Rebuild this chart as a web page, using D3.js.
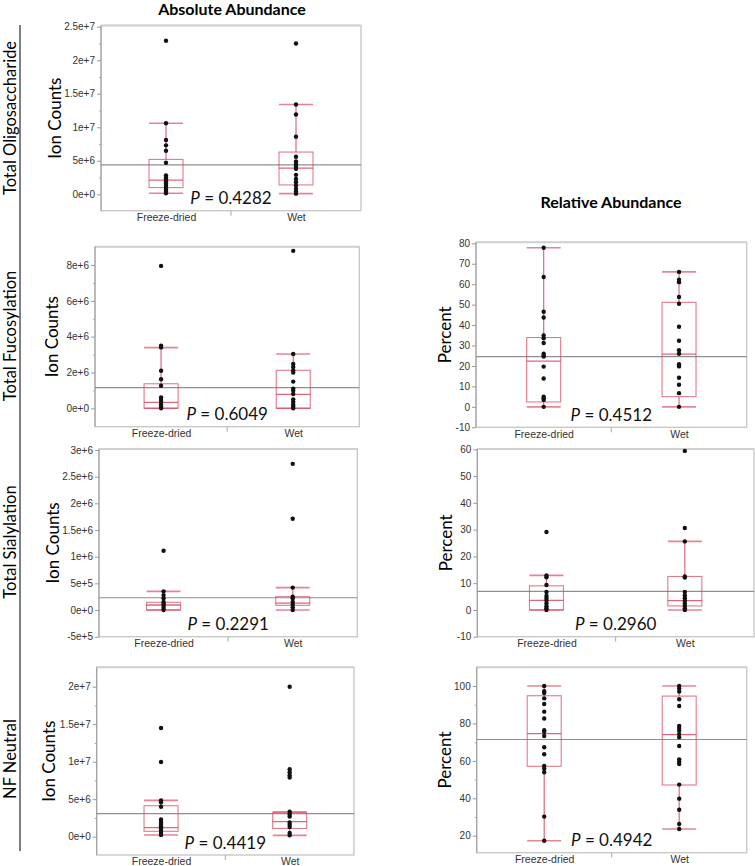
<!DOCTYPE html>
<html><head><meta charset="utf-8">
<script src="https://cdn.jsdelivr.net/npm/d3@7"></script>
<style>body{margin:0;background:#fff}svg{display:block}</style>
</head><body>
<svg id="chart" width="755" height="866"></svg>
<script>
// ---------------- DATA ----------------
const groups = ["Freeze-dried", "Wet"];
const rowLabels = ["Total Oligosaccharide", "Total Fucosylation", "Total Sialylation", "NF Neutral"];
const colTitles = ["Absolute Abundance", "Relative Abundance"];
const absAxisTitle = "Ion Counts";
const relAxisTitle = "Percent";

// box stats: [lower whisker, Q1, median, Q3, upper whisker]
// Absolute – Total Oligosaccharide
const oligoAbsFD = [22.9e6, 10.6e6, 8.1e6, 7.3e6, 6.5e6, 4.7e6, 2.8e6, 2.5e6, 2.2e6, 1.9e6, 1.6e6, 1.3e6, 1.0e6, 0.7e6, 0.4e6, 0.15e6];
const oligoAbsWet = [22.5e6, 13.4e6, 11.9e6, 8.6e6, 5.6e6, 4.9e6, 4.5e6, 4.1e6, 3.8e6, 2.9e6, 2.3e6, 1.8e6, 1.3e6, 0.8e6, 0.4e6, 0.1e6];
const oligoAbsBoxFD = [0.15e6, 1.0e6, 2.1e6, 5.2e6, 10.6e6];
const oligoAbsBoxWet = [0.1e6, 1.4e6, 3.9e6, 6.3e6, 13.4e6];
const oligoAbsMean = 4.4e6;
const oligoAbsP = "0.4282";
const oligoAbsTicks = [0, 5e6, 1e7, 1.5e7, 2e7, 2.5e7];
const oligoAbsTickLabels = ["0e+0", "5e+6", "1e+7", "1.5e+7", "2e+7", "2.5e+7"];
const oligoAbsMinor = [2.5e6, 7.5e6, 1.25e7, 1.75e7, 2.25e7];

// Absolute – Total Fucosylation
const fucAbsFD = [7.95e6, 3.5e6, 3.4e6, 2.1e6, 1.62e6, 1.26e6, 0.6e6, 0.46e6, 0.33e6, 0.2e6, 0.08e6, 0.0];
const fucAbsWet = [8.79e6, 3.03e6, 2.47e6, 2.3e6, 2.12e6, 2.0e6, 1.49e6, 1.1e6, 1.0e6, 0.8e6, 0.5e6, 0.35e6, 0.2e6, 0.1e6, 0.0];
const fucAbsBoxFD = [0, 0, 0.33e6, 1.37e6, 3.39e6];
const fucAbsBoxWet = [0, 0, 0.78e6, 2.12e6, 3.03e6];
const fucAbsMean = 1.15e6;
const fucAbsP = "0.6049";
const fucAbsTicks = [0, 2e6, 4e6, 6e6, 8e6];
const fucAbsTickLabels = ["0e+0", "2e+6", "4e+6", "6e+6", "8e+6"];
const fucAbsMinor = [1e6, 3e6, 5e6, 7e6];

// Absolute – Total Sialylation
const siaAbsFD = [1.11e6, 0.35e6, 0.28e6, 0.22e6, 0.15e6, 0.12e6, 0.08e6, 0.04e6, 0.0];
const siaAbsWet = [2.74e6, 1.71e6, 0.42e6, 0.25e6, 0.22e6, 0.15e6, 0.1e6, 0.05e6, 0.0];
const siaAbsBoxFD = [0, 0, 0.094e6, 0.145e6, 0.35e6];
const siaAbsBoxWet = [0, 0.088e6, 0.13e6, 0.25e6, 0.42e6];
const siaAbsMean = 0.23e6;
const siaAbsP = "0.2291";
const siaAbsTicks = [-5e5, 0, 5e5, 1e6, 1.5e6, 2e6, 2.5e6, 3e6];
const siaAbsTickLabels = ["-5e+5", "0e+0", "5e+5", "1e+6", "1.5e+6", "2e+6", "2.5e+6", "3e+6"];
const siaAbsMinor = [];

// Absolute – NF Neutral
const nfAbsFD = [14.5e6, 9.96e6, 4.85e6, 4.58e6, 4.0e6, 2.3e6, 2.0e6, 1.7e6, 1.4e6, 1.1e6, 0.8e6, 0.5e6, 0.22e6];
const nfAbsWet = [20.0e6, 8.99e6, 8.6e6, 8.2e6, 7.9e6, 3.33e6, 3.0e6, 2.7e6, 1.9e6, 1.6e6, 1.3e6, 0.5e6, 0.2e6];
const nfAbsBoxFD = [0.22e6, 0.72e6, 1.2e6, 4.13e6, 4.85e6];
const nfAbsBoxWet = [0.18e6, 1.1e6, 2.0e6, 3.2e6, 3.33e6];
const nfAbsMean = 3.07e6;
const nfAbsP = "0.4419";
const nfAbsTicks = [0, 5e6, 1e7, 1.5e7, 2e7];
const nfAbsTickLabels = ["0e+0", "5e+6", "1e+7", "1.5e+7", "2e+7"];
const nfAbsMinor = [2.5e6, 7.5e6, 1.25e7, 1.75e7];

// Relative – Total Fucosylation
const fucRelFD = [77.8, 63.5, 46.5, 43.7, 34.9, 33.5, 31.2, 26.0, 25.0, 24.6, 19.7, 13.9, 5.0, 4.2, 3.4, 0.0];
const fucRelWet = [66.0, 62.2, 61.0, 53.7, 50.4, 39.2, 32.3, 27.7, 26.0, 20.9, 19.8, 14.2, 10.8, 6.7, 0.0];
const fucRelBoxFD = [0, 2.4, 22.4, 33.9, 77.8];
const fucRelBoxWet = [0, 5.0, 25.8, 51.1, 66.0];
const fucRelMean = 24.6;
const fucRelP = "0.4512";
const fucRelTicks = [-10, 0, 10, 20, 30, 40, 50, 60, 70, 80];
const fucRelTickLabels = ["-10", "0", "10", "20", "30", "40", "50", "60", "70", "80"];
const fucRelMinor = [];

// Relative – Total Sialylation
const siaRelFD = [29.1, 12.9, 12.2, 9.3, 6.7, 5.2, 4.3, 3.4, 2.4, 1.4, 0.6, 0.0];
const siaRelWet = [59.4, 30.6, 25.6, 12.5, 12.1, 6.7, 5.4, 4.4, 3.4, 2.4, 1.5, 0.6, 0.0];
const siaRelBoxFD = [0, 0, 3.6, 9.0, 12.9];
const siaRelBoxWet = [0, 1.5, 3.5, 12.5, 25.6];
const siaRelMean = 6.9;
const siaRelP = "0.2960";
const siaRelTicks = [-10, 0, 10, 20, 30, 40, 50, 60];
const siaRelTickLabels = ["-10", "0", "10", "20", "30", "40", "50", "60"];
const siaRelMinor = [];

// Relative – NF Neutral
const nfRelFD = [100, 97.2, 96.2, 93.4, 90.4, 86.3, 82.6, 76.4, 75.5, 73.3, 67.3, 63.5, 57.3, 55.8, 53.9, 30.2, 17.3];
const nfRelWet = [100, 98.6, 97.0, 92.9, 89.3, 78.7, 77.5, 76.2, 74.3, 72.6, 67.9, 60.8, 59.5, 58.3, 47.3, 39.8, 33.9, 26.3, 23.6];
const nfRelBoxFD = [17.3, 57.1, 74.6, 94.8, 100];
const nfRelBoxWet = [23.6, 47.1, 74.0, 94.6, 100];
const nfRelMean = 71.4;
const nfRelP = "0.4942";
const nfRelTicks = [20, 40, 60, 80, 100];
const nfRelTickLabels = ["20", "40", "60", "80", "100"];
const nfRelMinor = [30, 50, 70, 90];

// ---------------- LAYOUT ----------------
const panels = [
  {frame: [101, 25.5, 361, 210.7], dom: [0, 2.5e7], rng: [194.3, 26.7], title: absAxisTitle, tx: 61,
   pts: [oligoAbsFD, oligoAbsWet], box: [oligoAbsBoxFD, oligoAbsBoxWet], mean: oligoAbsMean, p: oligoAbsP,
   ticks: oligoAbsTicks, labels: oligoAbsTickLabels, minor: oligoAbsMinor},
  {frame: [95, 246.7, 359.3, 426.7], dom: [0, 8e6], rng: [408.3, 265], title: absAxisTitle, tx: 58,
   pts: [fucAbsFD, fucAbsWet], box: [fucAbsBoxFD, fucAbsBoxWet], mean: fucAbsMean, p: fucAbsP,
   ticks: fucAbsTicks, labels: fucAbsTickLabels, minor: fucAbsMinor},
  {frame: [99, 449, 357.3, 636.7], dom: [-5e5, 3e6], rng: [636.7, 450], title: absAxisTitle, tx: 59,
   pts: [siaAbsFD, siaAbsWet], box: [siaAbsBoxFD, siaAbsBoxWet], mean: siaAbsMean, p: siaAbsP,
   ticks: siaAbsTicks, labels: siaAbsTickLabels, minor: siaAbsMinor},
  {frame: [96.7, 667.3, 354, 855], dom: [0, 2e7], rng: [836.7, 686.7], title: absAxisTitle, tx: 55,
   pts: [nfAbsFD, nfAbsWet], box: [nfAbsBoxFD, nfAbsBoxWet], mean: nfAbsMean, p: nfAbsP,
   ticks: nfAbsTicks, labels: nfAbsTickLabels, minor: nfAbsMinor},
  {frame: [476, 242.3, 746.7, 427.3], dom: [-10, 80], rng: [427.3, 243.3], title: relAxisTitle, tx: 451,
   pts: [fucRelFD, fucRelWet], box: [fucRelBoxFD, fucRelBoxWet], mean: fucRelMean, p: fucRelP,
   ticks: fucRelTicks, labels: fucRelTickLabels, minor: fucRelMinor},
  {frame: [477.3, 449, 754, 636.7], dom: [-10, 60], rng: [636.7, 449.3], title: relAxisTitle, tx: 452,
   pts: [siaRelFD, siaRelWet], box: [siaRelBoxFD, siaRelBoxWet], mean: siaRelMean, p: siaRelP,
   ticks: siaRelTicks, labels: siaRelTickLabels, minor: siaRelMinor},
  {frame: [476.7, 667.3, 746.7, 852.7], dom: [20, 100], rng: [835.7, 686], title: relAxisTitle, tx: 451,
   pts: [nfRelFD, nfRelWet], box: [nfRelBoxFD, nfRelBoxWet], mean: nfRelMean, p: nfRelP,
   ticks: nfRelTicks, labels: nfRelTickLabels, minor: nfRelMinor}
];

const svg = d3.select("#chart");
const BOX = "#d5425c";
const tickFont = "'Liberation Sans', Arial, sans-serif";
const bigFont = "Lato, 'Open Sans', sans-serif";

// column titles
svg.append("text").attr("x", 232).attr("y", 15).attr("text-anchor", "middle")
  .attr("font-family", bigFont).attr("font-weight", "bold").attr("font-size", 16).text(colTitles[0]);
svg.append("text").attr("x", 611).attr("y", 208).attr("text-anchor", "middle")
  .attr("font-family", bigFont).attr("font-weight", "bold").attr("font-size", 16).text(colTitles[1]);

// left bracket line and row labels
svg.append("line").attr("x1", 20).attr("x2", 20).attr("y1", 25).attr("y2", 851)
  .attr("stroke", "#555").attr("stroke-width", 1.5);
const rowCenters = [118, 336, 542, 759];
rowLabels.forEach((t, i) => {
  svg.append("text").attr("transform", `translate(15.5,${rowCenters[i]}) rotate(-90)`)
    .attr("text-anchor", "middle").attr("font-family", bigFont).attr("font-size", 16.5).text(t);
});

panels.forEach(p => {
  const [x0, y0, x1, y1] = p.frame;
  const g = svg.append("g");
  const y = d3.scaleLinear().domain(p.dom).range(p.rng);
  const x = d3.scalePoint().domain(groups).range([x0, x1]).padding(0.5);
  const bw = 34;

  // frame
  g.append("rect").attr("x", x0).attr("y", y0).attr("width", x1 - x0).attr("height", y1 - y0)
    .attr("fill", "none").attr("stroke", "#c9c9c9").attr("stroke-width", 1.4);
  g.append("line").attr("x1", x0).attr("x2", x1).attr("y1", y0).attr("y2", y0)
    .attr("stroke", "#d0d0d0").attr("stroke-width", 2);

  // y axis
  const ax = d3.axisLeft(y).tickValues(p.ticks).tickSize(4).tickPadding(2)
    .tickFormat((d, i) => p.labels[i]);
  const axg = g.append("g").attr("transform", `translate(${x0},0)`).call(ax);
  axg.select(".domain").remove();
  axg.selectAll(".tick line").attr("stroke", "#999");
  axg.selectAll(".tick text").attr("font-family", tickFont).attr("font-size", 10).attr("fill", "#333");
  g.append("line").attr("x1", x0).attr("x2", x0).attr("y1", y0).attr("y2", y1)
    .attr("stroke", "#9a9a9a").attr("stroke-width", 1);
  const mg = g.append("g").attr("transform", `translate(${x0},0)`)
    .call(d3.axisLeft(y).tickValues(p.minor).tickSize(2).tickFormat(""));
  mg.select(".domain").remove();
  mg.selectAll(".tick line").attr("stroke", "#aaa");

  // axis title
  const cy = (y0 + y1) / 2;
  g.append("text").attr("transform", `translate(${p.tx},${cy}) rotate(-90)`)
    .attr("text-anchor", "middle").attr("font-family", bigFont).attr("font-size", 17).text(p.title);

  // x axis
  const xa = d3.axisBottom(x).tickSize(0).tickPadding(3);
  const xg = g.append("g").attr("transform", `translate(0,${y1})`).call(xa);
  xg.select(".domain").remove();
  xg.selectAll(".tick text").attr("font-family", tickFont).attr("font-size", 10.5).attr("fill", "#333");
  g.append("line").attr("x1", (x0 + x1) / 2).attr("x2", (x0 + x1) / 2).attr("y1", y1).attr("y2", y1 + 5)
    .attr("stroke", "#aaa");

  // grand mean line
  g.append("line").attr("x1", x0).attr("x2", x1).attr("y1", y(p.mean)).attr("y2", y(p.mean))
    .attr("stroke", "#8f8f8f").attr("stroke-width", 1.2);

  groups.forEach((grp, gi) => {
    const cx = x(grp);
    const [lo, q1, med, q3, hi] = p.box[gi];
    const bg = g.append("g").attr("stroke", BOX).attr("fill", "none").attr("stroke-opacity", 0.8);
    bg.append("line").attr("x1", cx).attr("x2", cx).attr("y1", y(hi)).attr("y2", y(q3)).attr("stroke-width", 1.2);
    bg.append("line").attr("x1", cx).attr("x2", cx).attr("y1", y(q1)).attr("y2", y(lo)).attr("stroke-width", 1.2);
    bg.append("line").attr("x1", cx - bw / 2).attr("x2", cx + bw / 2).attr("y1", y(hi)).attr("y2", y(hi))
      .attr("stroke-width", 1.6).attr("stroke-opacity", 0.65);
    bg.append("line").attr("x1", cx - bw / 2).attr("x2", cx + bw / 2).attr("y1", y(lo)).attr("y2", y(lo))
      .attr("stroke-width", 1.6).attr("stroke-opacity", 0.65);
    bg.append("rect").attr("x", cx - bw / 2).attr("width", bw).attr("y", y(q3)).attr("height", y(q1) - y(q3))
      .attr("stroke-width", 1.1).attr("stroke-opacity", 0.7);
    bg.append("line").attr("x1", cx - bw / 2).attr("x2", cx + bw / 2).attr("y1", y(med)).attr("y2", y(med))
      .attr("stroke-width", 1.3);
    g.selectAll(null).data(p.pts[gi]).enter().append("circle")
      .attr("cx", cx).attr("cy", d => y(d)).attr("r", 2.2).attr("fill", "#111");
  });

  // P value
  const pt = g.append("text").attr("x", (x0 + x1) / 2).attr("y", y1 - 6.5).attr("text-anchor", "middle")
    .attr("font-family", bigFont).attr("font-size", 17).attr("fill", "#111");
  pt.append("tspan").attr("font-style", "italic").text("P");
  pt.append("tspan").text(" = " + p.p);
});
</script>
</body></html>
